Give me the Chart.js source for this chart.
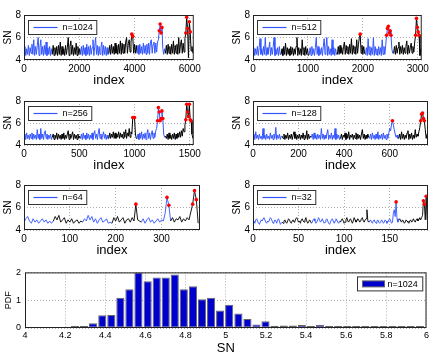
<!DOCTYPE html>
<html>
<head>
<meta charset="utf-8">
<script src="https://cdn.jsdelivr.net/npm/chart.js@4/dist/chart.umd.min.js"></script>
<style>
  html, body { margin: 0; padding: 0; background: #fff; width: 438px; height: 358px; overflow: hidden; }
  .box { position: absolute; }
</style>
</head>
<body>
<script>
/* =========================================================
   DATA
========================================================= */
const blockSize = [1024, 512, 256, 128, 64, 32];
const indexStep = [32, 16, 8, 4, 4, 1];
const indexMax = [6144, 3072, 1536, 768, 384, 192];
const xTickValues = [
    [0, 2000, 4000, 6000],
    [0, 1000, 2000, 3000],
    [0, 500, 1000, 1500],
    [0, 200, 400, 600],
    [0, 100, 200, 300],
    [0, 50, 100, 150]
];
const snTicks = [4, 6, 8];
const redAbove = 6.05;

const sn1024 = [
    4.5,5.2,4.4,5.0,4.5,5.3,4.4,5.1,4.6,5.4,4.5,5.8,4.4,5.2,4.5,5.3,
    6.0,4.4,5.1,5.8,4.5,5.2,4.4,5.3,4.5,5.6,4.4,5.1,4.5,5.2,4.4,5.0,
    4.5,5.3,4.4,5.1,4.5,5.2,4.4,5.3,4.5,5.6,4.4,5.2,4.5,5.0,4.4,5.3,
    4.5,5.1,6.0,4.4,5.2,5.7,4.5,5.3,4.4,5.1,4.5,5.5,4.4,5.2,4.5,5.0,
    4.5,5.2,4.4,5.3,4.5,5.1,4.4,5.4,4.5,5.2,4.4,5.3,4.5,5.1,5.8,4.4,
    5.2,6.0,4.5,5.3,4.4,5.2,4.5,5.1,5.6,4.4,5.3,4.5,5.2,4.4,5.1,4.5,
    4.6,5.3,4.5,5.4,4.6,5.2,4.5,5.5,4.6,5.3,4.5,5.4,4.6,5.7,4.5,5.5,
    4.6,5.4,4.6,5.6,6.0,4.6,5.5,5.8,4.7,5.6,6.3,6.1,4.6,5.4,4.6,5.3,
    4.6,5.3,4.5,5.4,4.6,5.2,4.5,5.5,4.6,5.3,4.5,5.4,4.6,5.5,4.5,5.6,
    5.8,4.6,5.4,5.6,4.6,5.5,4.7,5.6,5.8,6.6,7.2,6.4,6.9,5.0,4.5,5.0,
    4.6,5.3,4.5,5.4,4.6,5.2,4.5,5.4,4.6,5.7,4.5,5.3,4.6,5.4,4.5,6.0,
    4.6,5.4,5.8,4.6,5.5,4.7,5.9,6.4,7.8,6.8,4.2,7.4,6.5,4.8,5.2,4.6
];
const sn512 = [
    4.5,5.1,4.4,5.0,4.5,5.2,4.4,5.1,5.9,4.5,5.0,4.4,5.2,4.5,6.0,4.4,
    5.1,4.5,5.0,5.6,4.4,5.1,4.5,5.2,6.0,4.4,5.0,4.5,5.1,4.4,5.2,4.5,
    4.5,5.0,4.4,5.2,4.5,5.5,4.4,5.1,4.5,5.0,4.4,5.2,4.5,5.1,4.4,5.0,
    4.5,5.2,6.0,4.4,5.1,4.5,5.0,4.4,5.8,4.5,5.1,4.4,5.2,4.5,5.0,4.4,
    4.5,5.1,4.4,5.2,4.5,5.0,4.4,5.1,6.0,4.5,5.2,4.4,5.0,4.5,5.1,4.4,
    5.2,5.9,4.5,5.1,6.0,4.4,5.2,4.5,5.0,4.4,5.8,4.5,5.1,4.4,5.0,4.5,
    4.5,5.2,4.5,5.3,4.6,5.1,4.5,5.2,5.6,4.5,5.3,4.6,5.2,4.5,5.4,4.6,
    5.9,4.5,5.3,4.6,5.2,4.5,5.8,4.6,5.4,6.0,6.3,4.6,5.3,4.5,5.2,4.6,
    4.5,5.1,4.4,5.9,4.5,5.2,4.4,5.1,4.5,6.0,4.4,5.2,4.5,5.0,4.4,5.2,
    4.5,5.1,4.4,5.8,4.5,5.2,4.5,5.3,6.2,6.8,7.0,6.4,6.6,6.2,5.0,4.6,
    4.6,5.2,4.5,5.3,4.6,5.1,5.6,4.5,5.2,4.6,5.3,4.5,5.1,4.6,5.2,5.7,
    4.5,5.3,4.6,5.1,5.5,4.6,5.2,4.7,5.6,6.2,7.7,6.9,6.5,6.2,4.4,5.0
];
const sn256 = [
    4.6,5.0,4.5,5.1,4.6,4.9,4.5,5.0,4.6,5.1,4.5,5.0,4.6,4.9,4.5,5.4,
    4.6,5.0,4.5,5.5,4.6,5.0,4.5,5.1,5.3,4.6,5.0,4.5,4.9,4.6,5.0,4.5,
    4.7,5.0,4.5,4.9,4.6,5.1,4.5,5.0,4.6,4.9,4.5,5.0,4.6,5.1,4.5,4.9,
    4.6,5.0,5.3,4.5,5.0,4.6,4.9,5.2,4.5,5.0,4.6,4.9,4.5,5.0,4.6,4.8,
    4.6,5.0,4.5,5.1,4.6,4.9,4.5,5.1,4.6,5.0,4.5,4.9,4.6,5.1,4.5,5.0,
    5.3,4.6,5.0,4.5,5.1,5.5,4.6,5.0,4.5,4.9,5.2,4.6,5.0,4.5,4.9,4.6,
    4.6,5.1,4.6,5.0,4.7,5.2,4.6,5.1,4.6,5.0,4.7,5.2,4.6,5.1,4.7,5.0,
    4.6,5.2,4.7,5.4,4.6,5.1,4.8,5.5,4.7,5.2,5.0,6.5,6.5,6.5,5.0,4.6,
    4.6,5.0,4.5,5.1,4.6,5.2,4.5,5.0,4.6,5.1,4.5,5.0,5.4,4.6,5.1,4.5,
    5.0,5.3,4.6,5.1,4.7,5.3,5.5,6.2,7.4,7.0,6.2,6.4,7.1,6.4,5.0,4.7,
    4.8,4.6,5.0,4.5,5.1,4.6,4.9,4.5,5.0,4.6,5.1,4.5,5.0,4.6,5.1,4.7,
    5.2,4.7,5.3,4.8,5.5,5.2,5.8,6.3,7.7,7.0,6.6,7.7,6.3,6.2,5.0,4.6
];
const sn128 = [
    4.7,5.0,4.5,5.2,4.6,4.9,4.5,5.0,4.6,4.8,4.5,5.5,4.6,4.9,4.5,5.0,
    4.6,4.8,4.5,5.1,4.6,4.9,4.5,5.0,4.6,5.6,4.5,4.9,4.6,5.0,4.5,4.8,
    4.8,4.6,5.0,4.5,4.9,4.6,5.1,4.5,4.9,4.6,5.0,4.5,4.9,5.2,4.6,5.0,
    4.5,4.9,4.6,5.0,4.5,4.9,4.6,5.1,4.5,4.9,4.6,5.3,4.5,5.0,4.6,4.8,
    4.7,5.0,4.5,5.1,4.6,4.9,4.5,5.0,4.6,4.9,4.5,5.5,4.6,5.0,4.5,4.9,
    4.6,5.0,5.4,4.5,4.9,4.6,5.1,4.5,4.9,4.6,5.5,4.5,5.0,4.6,4.9,4.5,
    4.6,5.0,4.5,4.9,4.7,5.1,4.5,5.0,4.6,5.2,4.5,4.9,4.7,5.0,4.5,4.9,
    4.6,5.1,4.5,5.0,4.6,4.9,4.5,5.0,5.4,4.6,5.0,4.5,4.9,4.6,5.0,4.7,
    4.6,5.0,4.5,5.1,4.6,4.9,4.5,5.0,4.6,5.2,4.5,4.9,4.6,5.0,4.5,5.1,
    4.6,4.9,4.5,5.0,4.6,5.1,5.5,5.3,5.9,6.2,5.8,5.4,5.0,4.7,4.9,4.6,
    4.6,5.0,4.5,5.2,4.6,5.0,4.5,4.9,4.6,5.1,5.3,4.5,5.0,4.6,5.1,4.5,
    4.9,4.6,5.4,4.7,5.0,4.8,5.2,5.6,6.2,6.8,6.9,6.4,6.2,5.4,4.6,5.0
];
const sn64 = [
    4.7,5.0,5.2,4.8,4.6,5.0,4.7,4.9,4.6,4.8,5.0,4.7,4.9,4.6,4.8,4.6,
    4.8,5.2,4.9,5.3,4.7,4.9,5.1,4.6,4.9,4.7,5.0,4.6,4.8,4.9,4.6,4.8,
    4.7,5.0,4.8,5.3,4.9,5.2,4.7,5.0,4.6,4.9,5.1,4.7,4.8,5.0,4.6,4.7,
    4.6,5.1,4.8,5.2,4.7,4.9,5.1,4.6,4.9,5.0,4.7,5.1,4.8,6.3,4.9,4.8,
    4.7,5.0,4.6,4.9,5.1,4.7,4.9,4.6,4.8,5.0,4.7,4.9,4.8,5.5,6.9,6.2,
    4.8,5.1,4.7,5.0,4.9,5.2,4.7,5.0,4.8,5.1,4.9,5.6,6.3,7.5,6.7,4.6
];
const sn32 = [
    4.7,4.8,4.6,4.9,5.0,4.8,4.6,4.5,4.7,4.9,4.8,5.0,5.1,4.9,4.7,4.6,
    4.8,4.7,4.9,5.1,5.0,4.8,4.6,4.7,4.9,4.8,4.6,4.9,5.0,4.8,4.5,4.6,
    4.7,4.6,4.8,4.9,4.7,4.6,4.8,5.0,4.9,4.7,4.6,4.8,4.9,4.7,4.8,5.0,
    5.1,4.9,4.7,4.8,4.6,4.9,5.0,4.8,4.7,4.9,5.1,4.8,4.6,4.7,4.9,4.8,
    4.6,4.7,4.9,5.0,4.8,4.6,4.7,4.9,5.1,4.9,4.7,4.8,5.0,4.8,4.6,4.7,
    4.9,5.0,4.8,4.6,4.5,4.7,4.9,5.0,4.8,4.6,4.8,5.0,4.9,4.7,4.6,4.8,
    4.7,4.9,5.0,4.8,4.6,4.7,4.9,5.1,4.8,4.7,4.9,5.0,4.8,4.6,4.8,5.1,
    4.9,4.7,4.8,5.0,4.9,4.7,4.8,5.0,5.1,4.8,4.7,4.9,5.0,5.8,4.8,4.7,
    4.8,4.9,4.7,4.6,4.8,4.9,4.7,4.6,4.8,4.9,4.7,4.6,4.7,4.9,4.8,4.6,
    4.7,4.9,4.8,4.6,4.7,4.9,5.0,4.8,4.6,4.7,5.5,5.8,5.2,6.5,5.0,4.7,
    4.9,5.0,4.8,4.7,4.9,4.8,4.6,4.7,4.9,4.8,4.7,4.6,4.8,4.9,4.7,4.8,
    5.0,4.8,4.7,4.9,5.0,4.8,4.9,5.1,4.9,5.1,5.3,6.6,6.3,4.9,7.0,4.9
];
const series = [sn1024, sn512, sn256, sn128, sn64, sn32];

// histogram of SN, n=1024
const histCenters = [
    4.249,4.294,4.339,4.385,4.430,4.475,4.520,4.565,4.611,4.656,
    4.701,4.746,4.791,4.837,4.882,4.927,4.972,5.017,5.063,5.108,
    5.153,5.198,5.243,5.289,5.334,5.379,5.424,5.469,5.515,5.560,
    5.605,5.650,5.695,5.741,5.786,5.831,5.876,5.921,5.967
];
const histPdf = [
    0.02,0.03,0.17,0.46,0.47,1.09,1.39,2.00,1.68,1.82,
    1.82,1.92,1.39,1.50,1.03,1.09,0.63,0.84,0.52,0.32,
    0.13,0.24,0.08,0.09,0.09,0.11,0.07,0.12,0.03,0.03,
    0.03,0.03,0.05,0.03,0.02,0.04,0.01,0.01,0.01
];
const histXTicks = [4, 4.2, 4.4, 4.6, 4.8, 5, 5.2, 5.4, 5.6, 5.8, 6];
const histYTicks = [0, 1, 2];

/* =========================================================
   LAYOUT + STYLE
========================================================= */
const BLUE = '#3355ff';
const BLACK = '#000000';
const RED = '#ff0000';
const FONT = '"Liberation Sans", Arial, sans-serif';
Chart.defaults.font.family = FONT;
Chart.defaults.color = '#000';

const lineWidths = [1.0, 1.0, 1.0, 1.0, 0.9, 0.9];

const boxes = [
    { left: 0,   top: 6,   width: 204, height: 82 },
    { left: 229, top: 6,   width: 203, height: 82 },
    { left: 0,   top: 92,  width: 204, height: 81 },
    { left: 229, top: 92,  width: 203, height: 81 },
    { left: 0,   top: 176, width: 204, height: 82 },
    { left: 229, top: 176, width: 203, height: 82 }
];
const histBox = { left: 0, top: 263, width: 431, height: 93 };

function makeCanvas(b) {
    const div = document.createElement('div');
    div.className = 'box';
    div.style.left = b.left + 'px';
    div.style.top = b.top + 'px';
    div.style.width = b.width + 'px';
    div.style.height = b.height + 'px';
    const c = document.createElement('canvas');
    div.appendChild(c);
    document.body.appendChild(div);
    return c;
}

// axes box + in-plot legend (MATLAB look)
const framePlugin = {
    id: 'frame',
    afterDraw(chart, args, opts) {
        const { ctx, chartArea: a } = chart;
        ctx.save();
        ctx.strokeStyle = '#222';
        ctx.lineWidth = 1;
        ctx.strokeRect(a.left + 0.5, a.top + 0.5, a.right - a.left - 1, a.bottom - a.top - 1);

        const lg = opts.legend;
        if (lg) {
            ctx.font = '9px ' + FONT;
            const tw = ctx.measureText(lg.text).width;
            let bl, bt, w;
            const h = 14;
            if (lg.kind === 'line') {
                w = 34 + tw + 4;
                bl = a.left + 4.5;
                bt = a.top + 5.5;
            } else {
                w = 30 + tw + 5;
                bl = Math.round(a.right - 4 - w) + 0.5;
                bt = a.top + 4.5;
            }
            ctx.fillStyle = '#fff';
            ctx.fillRect(bl, bt, w, h);
            ctx.strokeStyle = '#333';
            ctx.lineWidth = 1;
            ctx.strokeRect(bl, bt, w, h);
            if (lg.kind === 'line') {
                ctx.strokeStyle = BLUE;
                ctx.lineWidth = 1.2;
                ctx.beginPath();
                ctx.moveTo(bl + 5, bt + h / 2);
                ctx.lineTo(bl + 29, bt + h / 2);
                ctx.stroke();
                ctx.fillStyle = '#000';
                ctx.textBaseline = 'middle';
                ctx.fillText(lg.text, bl + 34, bt + h / 2 + 0.5);
            } else {
                ctx.fillStyle = '#0000cc';
                ctx.fillRect(bl + 5, bt + 4, 22, 6);
                ctx.strokeStyle = '#666';
                ctx.strokeRect(bl + 5, bt + 4, 22, 6);
                ctx.fillStyle = '#000';
                ctx.textBaseline = 'middle';
                ctx.fillText(lg.text, bl + 30, bt + h / 2 + 0.5);
            }
        }
        ctx.restore();
    }
};

function gridOpts() {
    return { color: '#999', lineWidth: 0.8, drawTicks: false };
}

/* =========================================================
   SN TIME SERIES PANELS
========================================================= */
series.forEach((vals, i) => {
    const n = blockSize[i];
    const step = indexStep[i];
    const pts = vals.map((v, k) => ({ x: k * step, y: v }));

    new Chart(makeCanvas(boxes[i]), {
        type: 'line',
        data: {
            datasets: [{
                data: pts,
                borderWidth: lineWidths[i],
                borderColor: BLUE,
                segment: {
                    borderColor: c => (Math.floor(c.p0.parsed.x / n) % 2 ? BLACK : BLUE)
                },
                pointRadius: c => (c.raw && c.raw.y > redAbove ? 1.8 : 0),
                pointBackgroundColor: RED,
                pointBorderWidth: 0,
                tension: 0
            }]
        },
        options: {
            animation: false,
            responsive: true,
            maintainAspectRatio: false,
            events: [],
            layout: { padding: { top: 4, right: 4, left: 0, bottom: 0 } },
            plugins: {
                legend: { display: false },
                tooltip: { enabled: false },
                frame: { legend: { text: 'n=' + n, kind: 'line' } }
            },
            scales: {
                x: {
                    type: 'linear',
                    min: 0,
                    max: indexMax[i],
                    afterBuildTicks: s => { s.ticks = xTickValues[i].map(v => ({ value: v })); },
                    afterFit: s => { s.height = 28; },
                    ticks: {
                        font: { size: 10 }, color: '#000', padding: 3, maxRotation: 0, autoSkip: false,
                        callback: v => String(v)
                    },
                    grid: gridOpts(),
                    border: { display: false, dash: [1, 2] },
                    title: { display: true, text: 'index', font: { size: 13 }, color: '#000', padding: 0 }
                },
                y: {
                    min: 4,
                    max: 8,
                    afterBuildTicks: s => { s.ticks = snTicks.map(v => ({ value: v })); },
                    afterFit: s => { s.width = 24; },
                    ticks: { font: { size: 10 }, color: '#000', padding: 3, callback: v => String(v) },
                    grid: gridOpts(),
                    border: { display: false, dash: [1, 2] },
                    title: { display: true, text: 'SN', font: { size: 10 }, color: '#000', padding: { top: 2, bottom: 0 } }
                }
            }
        },
        plugins: [framePlugin]
    });
});

/* =========================================================
   HISTOGRAM (PDF of SN)
========================================================= */
new Chart(makeCanvas(histBox), {
    type: 'bar',
    data: {
        datasets: [{
            data: histCenters.map((c, k) => ({ x: c, y: histPdf[k] })),
            backgroundColor: '#0000cc',
            borderColor: '#666',
            borderWidth: 1,
            borderSkipped: false,
            minBarLength: 2,
            barPercentage: 0.9,
            categoryPercentage: 1
        }]
    },
    options: {
        animation: false,
        responsive: true,
        maintainAspectRatio: false,
        events: [],
        layout: { padding: { top: 4, right: 4, left: 0, bottom: 0 } },
        plugins: {
            legend: { display: false },
            tooltip: { enabled: false },
            frame: { legend: { text: 'n=1024', kind: 'bar' } }
        },
        scales: {
            x: {
                type: 'linear',
                offset: false,
                min: 4,
                max: 6,
                afterBuildTicks: s => { s.ticks = histXTicks.map(v => ({ value: v })); },
                afterFit: s => { s.height = 28; },
                ticks: {
                    font: { size: 9 }, color: '#000', padding: 2, maxRotation: 0, autoSkip: false,
                    callback: v => String(+v.toFixed(1))
                },
                grid: Object.assign(gridOpts(), { offset: false }),
                border: { display: false, dash: [1, 2] },
                title: { display: true, text: 'SN', font: { size: 13 }, color: '#000', padding: 0 }
            },
            y: {
                min: 0,
                max: 2,
                afterBuildTicks: s => { s.ticks = histYTicks.map(v => ({ value: v })); },
                afterFit: s => { s.width = 25; },
                ticks: { font: { size: 9 }, color: '#000', padding: 4, callback: v => String(v) },
                grid: gridOpts(),
                border: { display: false, dash: [1, 2] },
                title: { display: true, text: 'PDF', font: { size: 9 }, color: '#000', padding: { top: 3, bottom: 0 } }
            }
        }
    },
    plugins: [framePlugin]
});
</script>
</body>
</html>
